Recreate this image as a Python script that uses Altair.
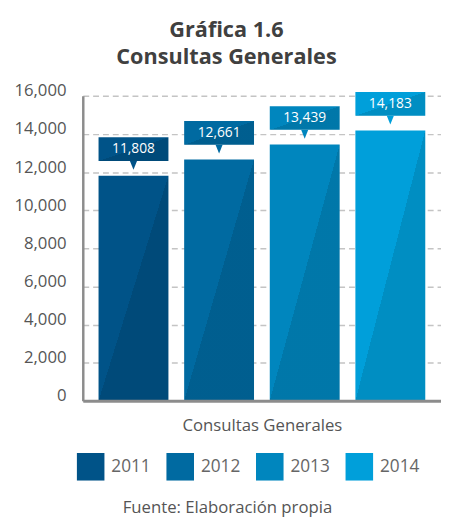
import altair as alt
import pandas as pd

years = ["2011", "2012", "2013", "2014"]
consultas = [11808, 12661, 13439, 14183]
colors = ["#005388", "#006aa1", "#0086be", "#009fda"]
y_ticks = [0, 2000, 4000, 6000, 8000, 10000, 12000, 14000, 16000]
title_lines = ["Gráfica 1.6", "Consultas Generales"]
x_title = "Consultas Generales"
footer = "Fuente: Elaboración propia"

df = pd.DataFrame({"year": years, "value": consultas})

FONT = "Open Sans"
shade = {
    "gradient": "linear", "x1": 0, "y1": 0, "x2": 1, "y2": 1,
    "stops": [
        {"offset": 0, "color": "rgba(0,0,0,0)"},
        {"offset": 0.5, "color": "rgba(0,0,0,0)"},
        {"offset": 0.5, "color": "rgba(0,0,0,0.11)"},
        {"offset": 1, "color": "rgba(0,0,0,0.11)"},
    ],
}

x_enc = alt.X(
    "year:N",
    sort=years,
    scale=alt.Scale(paddingInner=0.184, paddingOuter=0.184),
    axis=alt.Axis(
        labels=False, ticks=False, title=x_title, titleFont=FONT,
        titleFontSize=17, titleFontWeight="normal", titleColor="#555555",
        titlePadding=17, domainColor="#8c8c8c", domainWidth=3, zindex=1,
    ),
)
y_enc = alt.Y(
    "value:Q",
    scale=alt.Scale(domain=[0, 16000], nice=False),
    axis=alt.Axis(
        values=y_ticks, format=",.0f", title=None, labelOverlap=False,
        ticks=False, labelFont=FONT, labelFontSize=17, labelColor="#555555",
        labelPadding=17, labelOffset=-5, domainColor="#8c8c8c", domainWidth=2.5,
        gridColor="#c4c4c4", gridDash=[6, 4], gridWidth=1.5,
    ),
)
y2_enc = alt.Y2("value:Q")
color_enc = alt.Color(
    "year:N",
    scale=alt.Scale(domain=years, range=colors),
    legend=alt.Legend(
        title=None, orient="none", legendX=-6, legendY=363, direction="horizontal",
        symbolType="square", symbolSize=784, symbolStrokeWidth=0, symbolOpacity=1,
        labelFont=FONT, labelFontSize=17.5, labelColor="#666666", labelOffset=7,
        columnPadding=15, padding=0,
    ),
)

base = alt.Chart(df)
bars = base.mark_bar().encode(x=x_enc, y=y_enc, color=color_enc)
bars_shade = base.mark_bar(fill=shade).encode(x=x_enc, y=y_enc)
box = base.mark_bar(yOffset=-15, y2Offset=-39).encode(
    x=x_enc, y=y_enc, y2=y2_enc, color=color_enc
)
box_shade = base.mark_bar(yOffset=-15, y2Offset=-39, fill=shade).encode(
    x=x_enc, y=y_enc, y2=y2_enc
)
pointer = base.mark_point(
    shape="M-0.8,-1L0.8,-1L0,1Z", size=81, filled=True, opacity=1, yOffset=-10.5
).encode(x=x_enc, y=y_enc, color=color_enc)
box_text = base.mark_text(
    yOffset=-27, baseline="middle", align="center", color="white",
    font=FONT, fontSize=14,
).encode(x=x_enc, y=y_enc, text=alt.Text("value:Q", format=","))

one = alt.Chart(pd.DataFrame({"k": [0]}))
title_text = one.mark_text(
    font=FONT, fontSize=22, fontWeight="bold", color="#404040",
    align="center", baseline="alphabetic", lineHeight=28,
).encode(x=alt.value(146), y=alt.value(-60), text=alt.value(title_lines))
footer_text = one.mark_text(
    font=FONT, fontSize=17, color="#555555", align="center", baseline="alphabetic",
).encode(x=alt.value(147), y=alt.value(424), text=alt.value(footer))

chart = (
    alt.layer(bars, bars_shade, box, box_shade, pointer, box_text, title_text, footer_text)
    .properties(
        width=364, height=310,
        padding={"left": 76, "top": 85, "right": 0, "bottom": 122},
        autosize=alt.AutoSizeParams(type="none"),
    )
    .configure_view(stroke=None)
)

chart.save("out.html", embed_options={"renderer": "svg", "actions": False})
